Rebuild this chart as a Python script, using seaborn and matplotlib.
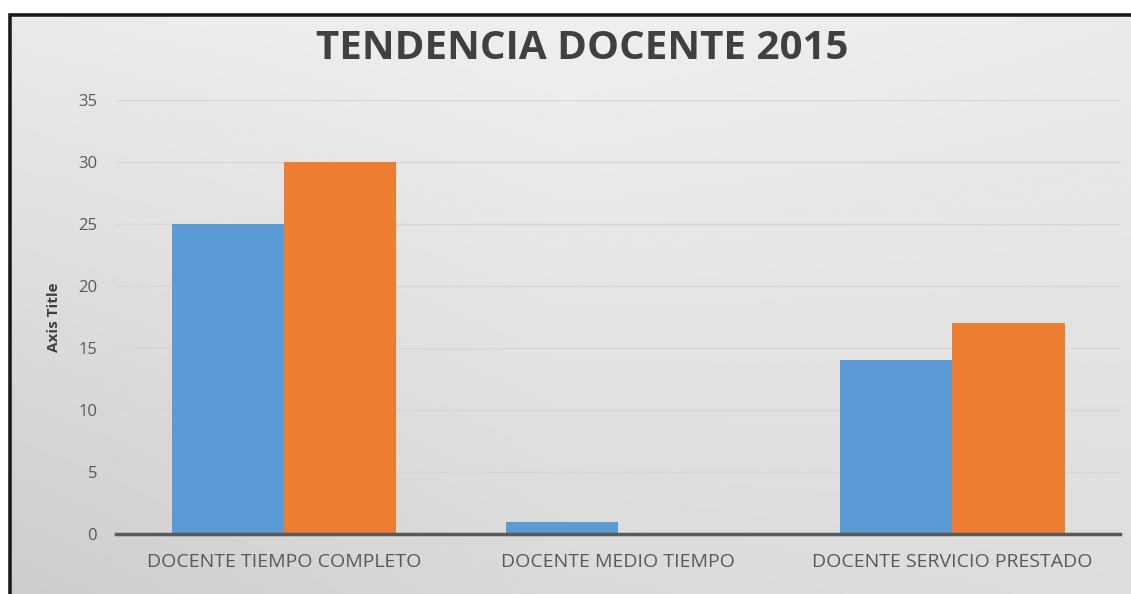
import numpy as np
import pandas as pd
import matplotlib
matplotlib.use("Agg")
import matplotlib.pyplot as plt
import matplotlib.patches as mpatches
import seaborn as sns

# Données
categorias = ["DOCENTE TIEMPO COMPLETO", "DOCENTE MEDIO TIEMPO", "DOCENTE SERVICIO PRESTADO"]
serie_1 = [25, 1, 14]
serie_2 = [30, 0, 17]
series = ["Serie 1", "Serie 2"]
y_ticks = [0, 5, 10, 15, 20, 25, 30, 35]

df = pd.DataFrame({
    "Categoria": categorias * 2,
    "Valor": serie_1 + serie_2,
    "Serie": [series[0]] * 3 + [series[1]] * 3,
})

sns.set_theme(style="white")
plt.rcParams["font.family"] = ["Open Sans", "DejaVu Sans"]

fig = plt.figure(figsize=(11.31, 5.94), dpi=100)
fig.patch.set_facecolor("white")

# fond dégradé gris (style Excel) : clair en haut, plus sombre en bas à gauche
bg = fig.add_axes([0, 0, 1, 1], zorder=0)
yy, xx = np.mgrid[0:1:200j, 0:1:400j]
grad = 0.94 - 0.12 * (1 - yy) * (1 - 0.55 * xx) - 0.04 * np.abs(xx - 0.5)
bg.imshow(grad, cmap="gray", vmin=0, vmax=1, aspect="auto", extent=[0, 1, 0, 1], origin="lower")
bg.set_xlim(0, 1)
bg.set_ylim(0, 1)
bg.axis("off")

# cadre noir
fig.patches.append(mpatches.Rectangle((9 / 1131, -0.05), 1.1, 1 - 14 / 594 + 0.05,
                                      transform=fig.transFigure, fill=False,
                                      edgecolor="#1a1a1a", linewidth=4, zorder=1))
# zone blanche hors cadre
fig.patches.append(mpatches.Rectangle((0, 1 - 12 / 594), 1, 1, transform=fig.transFigure,
                                      color="white", zorder=1))
fig.patches.append(mpatches.Rectangle((0, 0), 7 / 1131, 1, transform=fig.transFigure,
                                      color="white", zorder=1))

ax = fig.add_axes([0.103, 0.101, 0.887, 0.731], zorder=2)
ax.patch.set_alpha(0)

sns.barplot(data=df, x="Categoria", y="Valor", hue="Serie",
            palette=["#5B9BD5", "#ED7D31"], width=0.67, ax=ax,
            legend=False, saturation=1, linewidth=0)

ax.set_ylim(0, 35)
ax.set_yticks(y_ticks)
ax.set_xlim(-0.5, 2.5)
ax.yaxis.grid(True, color="#d6d6d6", linewidth=1)
ax.set_axisbelow(True)
for s in ["top", "right", "left"]:
    ax.spines[s].set_visible(False)
ax.spines["bottom"].set_color("#595959")
ax.spines["bottom"].set_linewidth(2.5)
ax.tick_params(axis="y", length=0, labelsize=12, labelcolor="#595959", pad=14)
ax.tick_params(axis="x", length=0, labelsize=14, labelcolor="#595959", pad=14)

ax.set_xlabel("")
ax.set_ylabel("Axis Title", fontsize=11, fontweight="bold", color="#404040", labelpad=12)

fig.text(0.515, 0.918, "TENDENCIA DOCENTE 2015", ha="center", va="center",
         fontsize=29, fontweight="bold", color="#404040", zorder=3)

fig.savefig("out.png", dpi=100)
